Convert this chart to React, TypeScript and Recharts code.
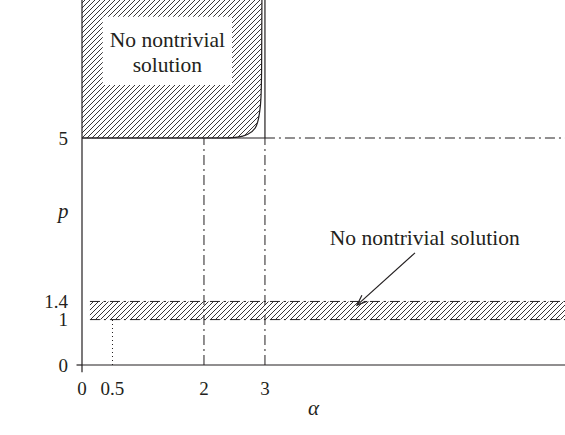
import { ComposedChart, Area, Line, XAxis, YAxis, ReferenceLine, ReferenceArea, ReferenceDot, Label } from 'recharts'

const xTicks = [0, 0.5, 2, 3]
const yTicks = [0, 1, 1.4, 5]
const xMax = 7.92
const yMax = 8.04

// boundary of the upper region (alpha, p)
const curveAlpha = [0, 2.3, 2.55, 2.7, 2.84, 2.91, 2.935, 2.945, 2.95]
const curveP = [5, 5, 5.02, 5.07, 5.22, 5.55, 5.9, 6.5, 8.04]

// lower band
const bandStart = 0.13
const bandLow = 1
const bandHigh = 1.4

// annotation anchors (data coords)
const arrowFrom = { x: 5.46, y: 2.47 }
const arrowTo = { x: 4.51, y: 1.32 }
const arrowText = { x: 5.62, y: 2.82 }
const boxAlpha = [0.34, 2.46]
const boxP = [6.17, 7.67]

const curveData = curveAlpha.map((a, i) => ({ alpha: a, p: curveP[i], top: [curveP[i], yMax + 1] }))

const ink = '#231f20'
const font = '"Liberation Serif", "DejaVu Serif", serif'
const dashDot = '10 4 2 4'

function Arrow(props: any) {
  const { x1, y1, x2, y2 } = props
  const ang = Math.atan2(y2 - y1, x2 - x1)
  const len = 11
  const spread = 0.38
  const ax = x2 - len * Math.cos(ang - spread)
  const ay = y2 - len * Math.sin(ang - spread)
  const bx = x2 - len * Math.cos(ang + spread)
  const by = y2 - len * Math.sin(ang + spread)
  return (
    <g>
      <line x1={x1} y1={y1} x2={x2} y2={y2} stroke={ink} strokeWidth={1.2} />
      <polyline points={`${ax},${ay} ${x2},${y2} ${bx},${by}`} fill="none" stroke={ink} strokeWidth={1.2} />
    </g>
  )
}

function BoxLabel(props: any) {
  const { viewBox } = props
  const cx = viewBox.x + viewBox.width / 2
  const cy = viewBox.y + viewBox.height / 2
  return (
    <text textAnchor="middle" fill={ink} fontFamily={font} fontSize={21.5}>
      <tspan x={cx} y={cy - 4}>No nontrivial</tspan>
      <tspan x={cx} y={cy + 21}>solution</tspan>
    </text>
  )
}

export default function App() {
  const tickStyle = { fill: ink, fontSize: 19, fontFamily: font }
  return (
    <div style={{ position: 'absolute', left: 0, top: 0, background: '#fff' }}>
      <ComposedChart width={565} height={435} margin={{ top: 0, right: 0, left: 52, bottom: 40 }}>
        <defs>
          <pattern id="hatch" width="5" height="5" patternUnits="userSpaceOnUse">
            <path d="M-1,1 L1,-1 M0,5 L5,0 M4,6 L6,4" stroke={ink} strokeWidth={0.9} />
          </pattern>
        </defs>
        <XAxis
          dataKey="alpha"
          type="number"
          domain={[0, xMax]}
          ticks={xTicks}
          allowDataOverflow
          tickLine={false}
          axisLine={{ stroke: ink, strokeWidth: 1.2 }}
          tick={tickStyle}
          tickMargin={11}
          interval={0}
        >
          <Label value="α" position="bottom" dx={-10} offset={5} fill={ink} fontSize={21} fontFamily={font} fontStyle="italic" />
        </XAxis>
        <YAxis
          type="number"
          domain={[0, yMax]}
          ticks={yTicks}
          allowDataOverflow
          width={30}
          tickLine={false}
          axisLine={{ stroke: ink, strokeWidth: 1.2 }}
          tick={tickStyle}
          tickMargin={8}
          interval={0}
        >
          <Label value="p" position="insideLeft" offset={6} dy={28} fill={ink} fontSize={21} fontFamily={font} fontStyle="italic" />
        </YAxis>

        {/* lower hatched band */}
        <ReferenceArea x1={bandStart} x2={xMax} y1={bandLow} y2={bandHigh} fill="url(#hatch)" fillOpacity={1} stroke="none" />

        {/* upper hatched region */}
        <Area
          data={curveData}
          dataKey="top"
          type="monotone"
          fill="url(#hatch)"
          fillOpacity={1}
          stroke="none"
          isAnimationActive={false}
        />
        <ReferenceArea x1={boxAlpha[0]} x2={boxAlpha[1]} y1={boxP[0]} y2={boxP[1]} fill="#fff" fillOpacity={1} stroke="none" label={<BoxLabel />} />
        <Line data={curveData} dataKey="p" type="monotone" stroke={ink} strokeWidth={1.2} dot={false} isAnimationActive={false} />

        {/* solid borders */}
        <ReferenceLine segment={[{ x: 0, y: 5 }, { x: 3, y: 5 }]} stroke={ink} strokeWidth={1.2} />
        <ReferenceLine segment={[{ x: 3, y: 5 }, { x: 3, y: yMax }]} stroke={ink} strokeWidth={1.2} />

        {/* dash-dot guides */}
        <ReferenceLine segment={[{ x: 3, y: 5 }, { x: xMax, y: 5 }]} stroke={ink} strokeDasharray={dashDot} />
        <ReferenceLine segment={[{ x: 2, y: 0 }, { x: 2, y: 5 }]} stroke={ink} strokeDasharray={dashDot} />
        <ReferenceLine segment={[{ x: 3, y: 0 }, { x: 3, y: 5 }]} stroke={ink} strokeDasharray={dashDot} />
        <ReferenceLine segment={[{ x: bandStart, y: bandLow }, { x: xMax, y: bandLow }]} stroke={ink} strokeDasharray={dashDot} />
        <ReferenceLine segment={[{ x: bandStart, y: bandHigh }, { x: xMax, y: bandHigh }]} stroke={ink} strokeDasharray={dashDot} />
        <ReferenceLine segment={[{ x: 0.5, y: 0 }, { x: 0.5, y: 1 }]} stroke={ink} strokeDasharray="1 3" />

        {/* axis overhangs */}
        <ReferenceLine segment={[{ x: -0.09, y: 0 }, { x: 0, y: 0 }]} stroke={ink} strokeWidth={1.2} ifOverflow="visible" />
        <ReferenceLine segment={[{ x: 0, y: 0 }, { x: 0, y: -0.16 }]} stroke={ink} strokeWidth={1.2} ifOverflow="visible" />

        {/* arrow annotation */}
        <ReferenceLine segment={[arrowFrom, arrowTo]} shape={(p: any) => <Arrow {...p} />} />
        <ReferenceDot x={arrowText.x} y={arrowText.y} r={0} fill="none" stroke="none">
          <Label value="No nontrivial solution" position="center" fill={ink} fontSize={21.5} fontFamily={font} />
        </ReferenceDot>
      </ComposedChart>
    </div>
  )
}
